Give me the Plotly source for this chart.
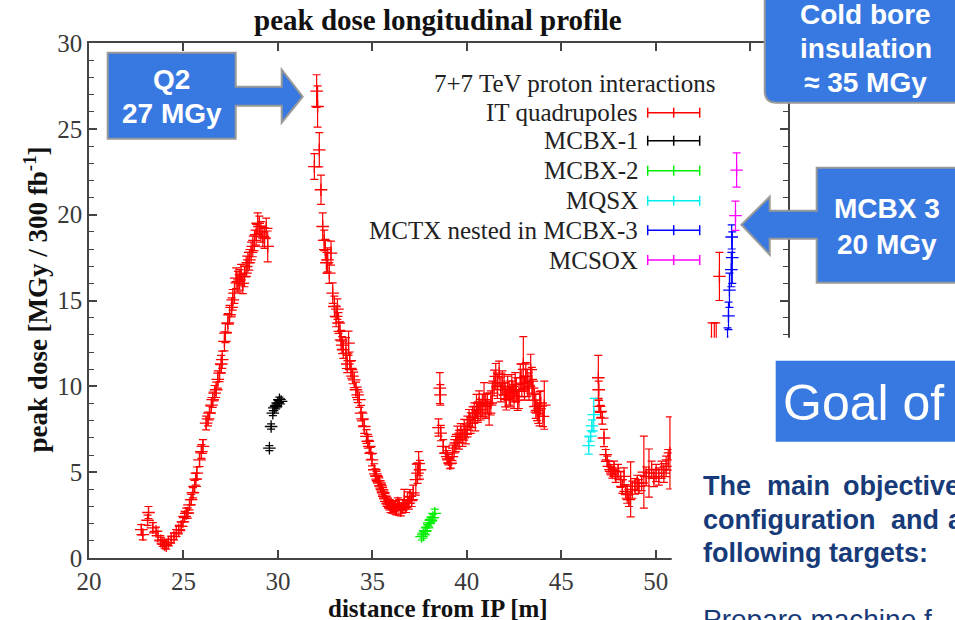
import plotly.graph_objects as go

# ---------------- data ----------------
it_x = [22.77, 22.85, 23.1, 23.15, 23.38, 23.55, 23.65, 23.8, 23.91, 24.0, 24.09, 24.2, 24.35, 24.5,
        24.62, 24.75, 24.88, 24.97, 25.06, 25.15, 25.23, 25.32, 25.41, 25.5, 25.59, 25.65, 25.71,
        25.85, 25.95, 26.03, 26.2, 26.3, 26.38, 26.48, 26.55, 26.65, 26.73, 26.82, 26.91, 27.0,
        27.05, 27.17, 27.22, 27.35, 27.44, 27.55, 27.61, 27.7, 27.79, 27.88, 27.97, 28.05, 28.14,
        28.23, 28.32, 28.41, 28.49, 28.58, 28.67, 28.76, 28.85, 28.93, 29.02, 29.1, 29.2, 29.29,
        29.38, 29.46,
        31.93, 32.05, 32.1, 32.19, 32.28, 32.37, 32.45, 32.51, 32.57, 32.63, 32.72, 32.81, 32.9,
        32.99, 33.08, 33.15, 33.21, 33.28, 33.34, 33.4, 33.46, 33.6, 33.67, 33.74, 33.8, 33.87,
        33.95, 34.04, 34.13, 34.22, 34.31, 34.4, 34.48, 34.57, 34.69, 34.76, 34.84, 34.91, 34.98,
        35.1, 35.16, 35.22, 35.3, 35.37, 35.44, 35.51, 35.57, 35.63, 35.69, 35.75, 35.82, 35.89,
        35.96, 36.04, 36.1, 36.16, 36.22, 36.28, 36.35, 36.42, 36.5, 36.57, 36.63, 36.69, 36.78,
        36.86, 36.93, 36.99, 37.08, 37.16, 37.3, 37.39, 37.45, 37.52,
        38.5, 38.57, 38.6, 38.62, 38.75, 38.89, 38.96, 39.03, 39.1, 39.15, 39.24, 39.33, 39.42,
        39.5, 39.59, 39.68, 39.77, 39.86, 39.95, 40.03, 40.12, 40.21, 40.3, 40.39, 40.45, 40.51,
        40.58, 40.65, 40.74, 40.82, 40.91, 41.0, 41.09, 41.18, 41.27, 41.35, 41.44, 41.53, 41.62,
        41.71, 41.8, 41.88, 41.97, 42.03, 42.09, 42.16, 42.24, 42.31, 42.38, 42.44, 42.5, 42.56,
        42.62, 42.69, 42.76, 42.83, 42.91, 42.99, 43.05, 43.12, 43.2, 43.29, 43.38, 43.44, 43.5,
        43.58, 43.65, 43.72, 43.78, 43.85, 43.91, 44.03, 44.1,
        46.96, 46.98, 47.0, 47.08, 47.17, 47.26, 47.35, 47.43, 47.52, 47.61, 47.7, 47.79, 47.88,
        48.01, 48.14, 48.23, 48.32, 48.41, 48.49, 48.58, 48.67, 48.76, 48.9, 49.02, 49.11, 49.25,
        49.37, 49.49, 49.64, 49.78, 49.9, 50.02, 50.16, 50.31, 50.43, 50.55, 50.66, 50.75,
        52.95, 53.1, 53.2, 53.37]
it_y = [1.65, 1.36, 2.2, 2.65, 1.76, 1.55, 1.3, 1.0, 0.87, 0.78, 0.72, 0.9, 1.07, 1.25,
        1.46, 1.65, 1.84, 2.1, 2.42, 2.6, 2.62, 3.1, 3.4, 3.8, 4.17, 4.6, 4.95,
        5.72, 6.2, 6.5, 7.86, 8.1, 8.44, 8.9, 9.22, 9.6, 9.8, 10.4, 10.77, 11.3,
        11.55, 12.62, 13.1, 13.69, 14.17, 14.6, 15.04, 15.43, 16.3, 16.1, 16.2, 16.5, 16.0,
        16.4, 16.98, 17.2, 17.37, 17.8, 18.15, 18.5, 18.83, 19.5, 19.31, 19.0, 18.73, 18.64,
        19.2, 18.15,
        22.8, 27.2, 26.3, 23.78, 21.45, 19.31, 18.5, 17.96, 17.2, 17.37, 16.6, 17.76, 15.43,
        14.65, 14.07, 14.5, 13.69, 13.2, 12.71, 12.4, 12.13, 11.94, 11.3, 12.52, 11.5, 10.97,
        10.6, 10.38, 9.8, 9.5, 9.22, 8.44, 8.1, 7.66, 7.08, 6.8, 6.5, 6.1, 5.72,
        5.14, 4.9, 4.75, 4.5, 4.37, 4.2, 3.98, 3.8, 3.59, 3.45, 3.3, 3.2, 3.1,
        2.95, 2.91, 3.05, 3.0, 2.85, 2.81, 3.2, 3.1, 2.75, 2.91, 3.1, 3.4, 3.0,
        3.4, 3.2, 3.59, 3.4, 3.79, 4.56, 4.95, 5.5, 5.14,
        7.6, 9.9, 9.5, 7.28, 6.5, 6.12, 5.9, 5.72, 5.5, 5.53, 6.12, 6.4, 6.7,
        7.08, 6.89, 7.28, 7.0, 7.47, 7.2, 7.66, 8.05, 7.86, 8.2, 8.44, 8.0, 8.83,
        8.5, 9.03, 8.64, 8.9, 9.22, 8.83, 9.0, 8.44, 9.03, 9.6, 10.19, 10.58, 9.99,
        10.77, 9.8, 10.2, 9.99, 9.5, 9.22, 9.9, 9.61, 9.4, 9.99, 9.7, 9.41, 10.1,
        9.8, 9.2, 9.41, 10.5, 10.19, 11.3, 9.9, 10.58, 10.2, 9.99, 10.97, 10.3, 9.61,
        9.2, 8.83, 8.6, 8.44, 8.7, 9.03, 8.25, 8.9,
        10.5, 9.8, 8.83, 8.54, 8.15, 6.99, 6.02, 5.63, 5.34, 5.14, 4.95, 5.24, 4.75,
        5.05, 4.56, 4.17, 4.75, 3.88, 3.69, 3.4, 4.0, 3.98, 4.17, 4.37, 4.17, 4.37,
        5.0, 4.75, 4.95, 5.14, 4.66, 4.95, 4.75, 5.14, 4.95, 5.34, 5.72, 6.12,
        12.6, 12.3, 12.0, 16.4]
it_err = [0.3, 0.3, 0.3, 0.35, 0.3, 0.25, 0.25, 0.2, 0.2, 0.2, 0.2, 0.2, 0.2, 0.2,
          0.2, 0.25, 0.25, 0.25, 0.3, 0.3, 0.3, 0.3, 0.3, 0.3, 0.35, 0.35, 0.35,
          0.4, 0.4, 0.4, 0.4, 0.4, 0.4, 0.45, 0.45, 0.45, 0.45, 0.5, 0.5, 0.5,
          0.5, 0.55, 0.55, 0.55, 0.55, 0.55, 0.6, 0.6, 0.6, 0.6, 0.6, 0.6, 0.6,
          0.6, 0.6, 0.6, 0.6, 0.6, 0.6, 0.6, 0.6, 0.6, 0.6, 0.6, 0.6, 0.6,
          0.6, 0.9,
          0.75, 0.95, 1.2, 1.0, 0.85, 0.8, 0.6, 0.6, 0.6, 0.7, 0.6, 0.7, 0.6,
          0.6, 0.6, 0.6, 0.6, 0.55, 0.55, 0.5, 0.5, 0.9, 0.5, 0.7, 0.5, 0.5,
          0.45, 0.45, 0.45, 0.45, 0.45, 0.45, 0.4, 0.4, 0.4, 0.4, 0.35, 0.35, 0.35,
          0.35, 0.3, 0.3, 0.3, 0.3, 0.3, 0.3, 0.3, 0.3, 0.3, 0.3, 0.3, 0.3,
          0.3, 0.3, 0.3, 0.3, 0.3, 0.3, 0.3, 0.3, 0.3, 0.3, 0.3, 0.6, 0.35,
          0.45, 0.35, 0.4, 0.4, 0.45, 0.9, 0.6, 0.7, 0.55,
          0.5, 0.9, 0.6, 0.45, 0.4, 0.35, 0.35, 0.3, 0.3, 0.3, 0.45, 0.5, 0.5,
          0.6, 0.55, 0.55, 0.5, 0.6, 0.55, 0.6, 0.6, 0.6, 0.6, 0.6, 0.6, 0.7,
          0.6, 0.7, 0.6, 0.65, 1.0, 0.7, 0.6, 0.7, 0.7, 0.7, 0.75, 0.75, 0.7,
          0.7, 0.7, 0.7, 0.7, 0.7, 0.6, 0.7, 0.7, 0.6, 0.7, 0.6, 0.7, 0.7,
          0.7, 0.6, 0.7, 0.8, 0.8, 1.6, 0.7, 0.8, 0.8, 0.8, 0.9, 0.8, 0.8,
          0.7, 0.7, 0.6, 0.6, 1.0, 0.7, 0.6, 1.4,
          1.3, 0.5, 0.35, 0.35, 0.35, 0.5, 0.3, 0.3, 0.3, 0.3, 0.3, 0.4, 0.35,
          0.4, 0.45, 0.4, 0.5, 0.4, 0.5, 0.4, 1.6, 0.5, 0.45, 0.45, 0.4, 0.45,
          2.1, 0.55, 1.4, 0.5, 0.5, 0.5, 0.5, 0.5, 0.55, 0.6, 0.6, 2.1,
          1.1, 1.4, 1.7, 1.4]

mcbx1_x = [29.55, 29.64, 29.73, 29.81, 29.9, 29.99, 30.08, 30.17]
mcbx1_y = [6.4, 7.66, 8.44, 8.74, 8.83, 9.03, 9.22, 9.12]
mcbx1_err = [0.15, 0.15, 0.15, 0.15, 0.15, 0.15, 0.15, 0.15]

mcbx2_x = [37.6, 37.7, 37.8, 37.9, 38.0, 38.1, 38.2, 38.3]
mcbx2_y = [1.25, 1.35, 1.6, 1.75, 2.05, 2.2, 2.35, 2.6]
mcbx2_err = [0.2, 0.2, 0.2, 0.2, 0.2, 0.2, 0.2, 0.25]

mqsx_x = [46.72, 46.62, 46.55, 46.45]
mqsx_y = [8.35, 7.7, 7.1, 6.55]
mqsx_err = [0.95, 0.35, 0.3, 0.5]

mctx_x = [54.02, 54.05, 54.0, 53.9, 53.85, 53.8]
mctx_y = [18.7, 17.5, 16.8, 15.6, 14.1, 12.6]
mctx_err = [0.7, 1.5, 1.0, 1.0, 0.8, 0.8]

mcsox_x = [54.28, 54.22]
mcsox_y = [22.6, 19.94]
mcsox_err = [1.0, 0.85]

series_names = ["IT quadrupoles", "MCBX-1", "MCBX-2", "MQSX", "MCTX nested in MCBX-3", "MCSOX"]
series_colors = ["#ff0000", "#000000", "#00ee00", "#00eeee", "#0000ff", "#ff00ff"]
series_data = [(it_x, it_y, it_err), (mcbx1_x, mcbx1_y, mcbx1_err), (mcbx2_x, mcbx2_y, mcbx2_err),
               (mqsx_x, mqsx_y, mqsx_err), (mctx_x, mctx_y, mctx_err), (mcsox_x, mcsox_y, mcsox_err)]

x_ticks = [20, 25, 30, 35, 40, 45, 50, 55]
y_ticks = [0, 5, 10, 15, 20, 25, 30]

title_text = "peak dose longitudinal profile"
x_title = "distance from IP [m]"
y_title = "peak dose [MGy / 300 fb<sup>-1</sup>]"
legend_title = "7+7 TeV proton interactions"

# ---------------- layout helpers (pixel -> paper) ----------------
W, H = 955, 620
PX0, PX1, PY0, PY1 = 89.3, 788.3, 43.3, 558.3


def fx(p):
    return (p - PX0) / (PX1 - PX0)


def fy(p):
    return (PY1 - p) / (PY1 - PY0)


def path(points):
    s = "M " + " L ".join("%.5f,%.5f" % (fx(a), fy(b)) for a, b in points) + " Z"
    return s


SERIF = "Liberation Serif"
SANS = "Liberation Sans"
BLUE = "#3779e1"

fig = go.Figure()
for name, col, (xs, ys, es) in zip(series_names, series_colors, series_data):
    fig.add_trace(go.Scatter(
        x=xs, y=ys, mode="markers", name=name, showlegend=False,
        marker=dict(symbol="cross-thin", size=9, line=dict(color=col, width=1.3), color=col),
        error_y=dict(type="data", array=es, visible=True, color=col, thickness=1.2, width=4),
    ))

shapes = []
annotations = []

# legend (gnuplot-style key)
leg_y = [113.0, 141.0, 171.0, 201.0, 230.5, 260.3]
annotations.append(dict(xref="paper", yref="paper", x=fx(718), y=fy(84), xanchor="right",
                        yanchor="middle", text=legend_title, showarrow=False,
                        font=dict(family=SERIF, size=25, color="#222")))
for name, col, yy in zip(series_names, series_colors, leg_y):
    annotations.append(dict(xref="paper", yref="paper", x=fx(640), y=fy(yy), xanchor="right",
                            yanchor="middle", text=name, showarrow=False,
                            font=dict(family=SERIF, size=25, color="#222")))
    shapes.append(dict(type="line", xref="paper", yref="paper", x0=fx(648), x1=fx(700),
                       y0=fy(yy), y1=fy(yy), line=dict(color=col, width=1.5)))
    for xp in (648, 674, 700):
        shapes.append(dict(type="line", xref="paper", yref="paper", x0=fx(xp), x1=fx(xp),
                           y0=fy(yy - 5), y1=fy(yy + 5), line=dict(color=col, width=1.5)))

# slide overlay: white cover
shapes.append(dict(type="rect", xref="paper", yref="paper", x0=fx(672), x1=fx(965),
                   y0=fy(338), y1=fy(630), fillcolor="white", line=dict(width=0), layer="above"))

# callout Q2
shapes.append(dict(type="path", xref="paper", yref="paper", layer="above",
                   path=path([(108, 53), (236, 53), (236, 87), (282, 87), (282, 70), (303, 97),
                              (282, 123), (282, 106), (236, 106), (236, 139), (108, 139)]),
                   fillcolor=BLUE, line=dict(color="#999", width=2)))
# callout cold bore
shapes.append(dict(type="path", xref="paper", yref="paper", layer="above",
                   path="M %.5f,%.5f L %.5f,%.5f L %.5f,%.5f L %.5f,%.5f Q %.5f,%.5f %.5f,%.5f Z" % (
                       fx(765), fy(-5), fx(965), fy(-5), fx(965), fy(103), fx(777), fy(103),
                       fx(765), fy(103), fx(765), fy(91)),
                   fillcolor=BLUE, line=dict(color="#999", width=2)))
# callout MCBX 3
shapes.append(dict(type="path", xref="paper", yref="paper", layer="above",
                   path=path([(965, 168), (817, 168), (817, 211), (770, 211), (770, 197), (741.7, 225),
                              (770, 255), (770, 239), (817, 239), (817, 283), (965, 283)]),
                   fillcolor=BLUE, line=dict(color="#999", width=2)))
# Goal box
shapes.append(dict(type="rect", xref="paper", yref="paper", x0=fx(776), x1=fx(965),
                   y0=fy(361), y1=fy(442), fillcolor=BLUE, line=dict(width=0), layer="above"))


def txt(x, y, s, size, color="white", bold=True, anchor="center", family=SANS):
    annotations.append(dict(xref="paper", yref="paper", x=fx(x), y=fy(y), xanchor=anchor,
                            yanchor="middle", showarrow=False,
                            text=("<b>%s</b>" % s) if bold else s,
                            font=dict(family=family, size=size, color=color)))


txt(172, 80, "Q2", 28)
txt(172, 114, "27 MGy", 28)
txt(866, 15, "Cold bore", 28)
txt(866, 49, "insulation", 28)
txt(866, 83, "≈ 35 MGy", 28)
txt(887, 209, "MCBX 3", 28)
txt(887, 245, "20 MGy", 28)
txt(781, 403, "Goal of", 50, bold=False, anchor="left")
NAVY = "#173a78"
txt(701.7, 486, "The", 27, NAVY, anchor="left")
txt(765, 486, "main", 27, NAVY, anchor="left")
txt(841.7, 486, "objective", 27, NAVY, anchor="left")
txt(701.7, 520, "configuration", 27, NAVY, anchor="left")
txt(889.3, 520, "and", 27, NAVY, anchor="left")
txt(946.7, 520, "a", 27, NAVY, anchor="left")
txt(701.7, 553, "following targets:", 27, NAVY, anchor="left")
txt(701.7, 620, "Prepare machine f", 28, NAVY, bold=False, anchor="left")

# chart titles
txt(438, 20, title_text, 29, "#111", family=SERIF)
txt(438, 609, x_title, 25, "#111", family=SERIF)
annotations.append(dict(xref="paper", yref="paper", x=fx(36), y=fy(300), xanchor="center",
                        yanchor="middle", showarrow=False, textangle=-90,
                        text="<b>" + y_title + "</b>",
                        font=dict(family=SERIF, size=27, color="#111")))

axis_common = dict(showline=True, linecolor="#444", linewidth=1.5, mirror="ticks", ticks="inside",
                   tickcolor="#444", tickwidth=1.5, ticklen=8, showgrid=False, zeroline=False,
                   tickfont=dict(family=SERIF, size=25, color="#3a3a3a"))
fig.update_layout(
    width=W, height=H, margin=dict(l=PX0, r=W - PX1, t=PY0, b=H - PY1),
    paper_bgcolor="white", plot_bgcolor="white", showlegend=False,
    xaxis=dict(range=[20, 57], tickmode="array", tickvals=x_ticks,
               ticktext=[str(v) for v in x_ticks], **axis_common),
    yaxis=dict(range=[0, 30], tickmode="array", tickvals=y_ticks,
               ticktext=[str(v) for v in y_ticks],
               minor=dict(dtick=1, ticks="inside", ticklen=5, tickcolor="#444", tickwidth=1.2),
               **axis_common),
    shapes=shapes, annotations=annotations,
)
fig.write_html("out.html")
